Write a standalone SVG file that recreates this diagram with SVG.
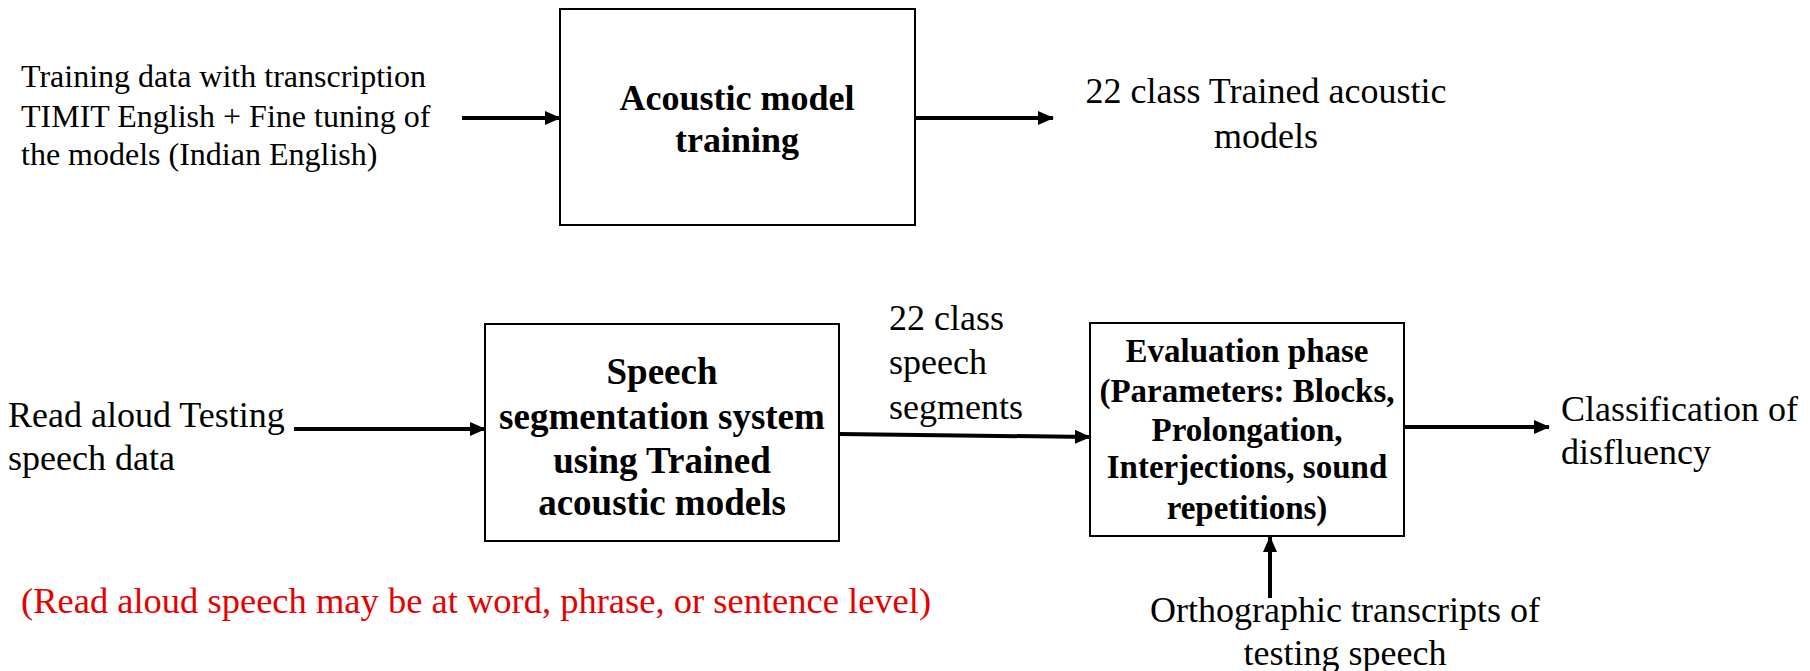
<svg xmlns="http://www.w3.org/2000/svg" width="1810" height="671" viewBox="0 0 1810 671">
  <style>
    .box { fill: #ffffff; stroke: #000000; stroke-width: 2; }
    .t { font-family: "Liberation Serif", "Times New Roman", serif; fill: #000000; }
    .reg { font-size: 36px; }
    .small { font-size: 32px; }
    .b { font-weight: bold; text-anchor: middle; }
    .note { font-size: 36.5px; fill: #e60000; }
    .conn { stroke: #000000; stroke-width: 4; fill: none; marker-end: url(#head); }
  </style>
  <defs>
    <marker id="head" markerUnits="userSpaceOnUse" markerWidth="16" markerHeight="14" refX="15" refY="7" orient="auto">
      <path d="M0,0 L16,7 L0,14 Z" fill="#000000"/>
    </marker>
  </defs>

  <rect width="1810" height="671" fill="#ffffff"/>

  <!-- input text for training -->
  <g id="training-data">
    <text class="t small" x="21" y="87">Training data with transcription</text>
    <text class="t small" x="21" y="127">TIMIT English + Fine tuning of</text>
    <text class="t small" x="21" y="165">the models (Indian English)</text>
  </g>

  <g id="acoustic-training">
    <rect class="box" x="560" y="9" width="355" height="216"/>
    <text class="t b" font-size="36" x="737" y="110">Acoustic model</text>
    <text class="t b" font-size="36" x="737" y="152">training</text>
  </g>

  <g id="trained-models">
    <text class="t reg" x="1266" y="103" text-anchor="middle">22 class Trained acoustic</text>
    <text class="t reg" x="1266" y="148" text-anchor="middle">models</text>
  </g>

  <g id="testing-data">
    <text class="t reg" x="8" y="427">Read aloud Testing</text>
    <text class="t reg" x="8" y="470">speech data</text>
  </g>

  <g id="segmentation">
    <rect class="box" x="485" y="324" width="354" height="217"/>
    <text class="t b" font-size="37" x="662" y="384">Speech</text>
    <text class="t b" font-size="37" x="662" y="429">segmentation system</text>
    <text class="t b" font-size="37" x="662" y="473">using Trained</text>
    <text class="t b" font-size="37" x="662" y="515">acoustic models</text>
  </g>

  <g id="segments">
    <text class="t reg" x="889" y="330">22 class</text>
    <text class="t reg" x="889" y="374">speech</text>
    <text class="t reg" x="889" y="419">segments</text>
  </g>

  <g id="evaluation">
    <rect class="box" x="1090" y="323" width="314" height="213"/>
    <text class="t b" font-size="33" x="1247" y="362">Evaluation phase</text>
    <text class="t b" font-size="33" x="1247" y="402">(Parameters: Blocks,</text>
    <text class="t b" font-size="33" x="1247" y="441">Prolongation,</text>
    <text class="t b" font-size="33" x="1247" y="478">Interjections, sound</text>
    <text class="t b" font-size="33" x="1247" y="519">repetitions)</text>
  </g>

  <g id="classification">
    <text class="t reg" font-size="36.5" x="1561" y="421">Classification of</text>
    <text class="t reg" font-size="36.5" x="1561" y="464">disfluency</text>
  </g>

  <g id="transcripts">
    <text class="t reg" font-size="33" x="1345" y="622" text-anchor="middle">Orthographic transcripts of</text>
    <text class="t reg" font-size="33" x="1345" y="665" text-anchor="middle">testing speech</text>
  </g>

  <g id="level-note">
    <text class="t note" x="21" y="613">(Read aloud speech may be at word, phrase, or sentence level)</text>
  </g>

  <g id="connectors">
    <line class="conn" x1="462" y1="118" x2="560" y2="118"/>
    <line class="conn" x1="915" y1="118" x2="1053" y2="118"/>
    <line class="conn" x1="294" y1="429" x2="485" y2="429"/>
    <line class="conn" x1="839" y1="434" x2="1090" y2="437"/>
    <line class="conn" x1="1404" y1="427" x2="1549" y2="427"/>
    <line class="conn" x1="1270" y1="598" x2="1270" y2="537"/>
  </g>
</svg>
